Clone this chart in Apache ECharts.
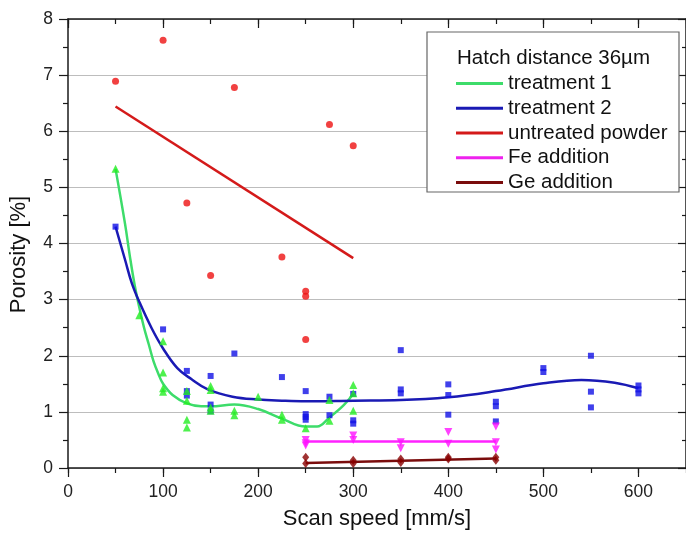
<!DOCTYPE html>
<html>
<head>
<meta charset="utf-8">
<script src="https://cdn.jsdelivr.net/npm/echarts@6/dist/echarts.min.js"></script>
<style>html,body{margin:0;padding:0;background:#fff}#c{width:686px;height:535px}</style>
</head>
<body>
<div id="c"></div>
<script>
const FONT = 'Liberation Sans, Arial, sans-serif';
const legendTitle = 'Hatch distance 36µm';
const seriesNames = ['treatment 1', 'treatment 2', 'untreated powder', 'Fe addition', 'Ge addition'];
const xTicks = [0, 100, 200, 300, 400, 500, 600];
const yTicks = [0, 1, 2, 3, 4, 5, 6, 7, 8];

// measured points
const treatment1Pts = [[50,5.33],[75,2.72],[100,2.26],[100,1.70],[100,1.42],[100,1.36],[125,1.37],[125,1.20],[125,0.86],[125,0.72],[150,1.46],[150,1.39],[150,1.08],[150,1.02],[175,1.02],[175,0.94],[200,1.27],[225,0.95],[225,0.86],[250,0.71],[275,1.21],[275,0.84],[300,1.48],[300,1.33],[300,1.02]];
const treatment2Pts = [[50,4.30],[100,2.47],[125,1.73],[125,1.37],[125,1.29],[150,1.64],[150,1.13],[150,1.01],[175,2.04],[225,1.62],[250,1.37],[250,0.96],[250,0.91],[250,0.86],[275,1.27],[275,0.94],[300,1.32],[300,0.85],[300,0.79],[350,2.10],[350,1.40],[350,1.33],[400,1.49],[400,1.30],[400,0.95],[450,1.18],[450,1.10],[450,0.83],[500,1.78],[500,1.71],[550,2.00],[550,1.36],[550,1.08],[600,1.47],[600,1.40],[600,1.33]];
const untreatedPts = [[50,6.89],[100,7.62],[125,4.72],[150,3.43],[175,6.78],[225,3.76],[250,3.15],[250,3.06],[250,2.29],[275,6.12],[300,5.74]];
const fePts = [[250,0.50],[250,0.44],[250,0.40],[300,0.58],[300,0.50],[350,0.46],[350,0.35],[400,0.64],[400,0.43],[450,0.74],[450,0.46],[450,0.33]];
const gePts = [[250,0.19],[250,0.08],[300,0.14],[300,0.08],[350,0.16],[350,0.10],[400,0.19],[400,0.16],[450,0.19],[450,0.14]];

// fitted curves
const treatment1Fit = [[50,5.33],[60,4.35],[65,3.78],[70,3.27],[75,2.86],[80,2.50],[85,2.20],[90,1.90],[95,1.68],[100,1.50],[110,1.30],[125,1.15],[140,1.10],[150,1.10],[175,1.13],[200,1.05],[225,0.88],[250,0.74],[262,0.74],[275,0.90],[290,1.12],[300,1.32]];
const treatment2Fit = [[50,4.30],[60,3.71],[67,3.30],[75,2.96],[88,2.49],[100,2.13],[115,1.78],[130,1.58],[147,1.40],[173,1.27],[200,1.22],[225,1.20],[250,1.19],[300,1.20],[350,1.21],[400,1.26],[450,1.37],[500,1.51],[540,1.57],[575,1.52],[600,1.42]];
const untreatedFit = [[50,6.44],[300,3.74]];
const feFit = [[250,0.47],[450,0.47]];
const geFit = [[250,0.09],[450,0.17]];

const axisColor = '#1a1a1a';
const chart = echarts.init(document.getElementById('c'), null, {renderer: 'canvas'});

function xAx(pos, interval, len, inside, labels, line, extra) {
  return Object.assign({
    type: 'value', position: pos, min: 0, max: 650, interval: interval,
    axisLine: {show: line, onZero: false, lineStyle: {color: axisColor, width: 1.5}},
    axisTick: {show: true, inside: inside, length: len, lineStyle: {color: axisColor, width: 1.2}},
    axisLabel: {show: labels, margin: 15, fontSize: 17.5, color: '#222', fontFamily: FONT, showMaxLabel: false,
      formatter: v => xTicks.indexOf(v) >= 0 ? String(v) : ''},
    splitLine: {show: false}
  }, extra || {});
}

const option = {
  animation: false,
  backgroundColor: '#fff',
  grid: {left: 68, top: 19, width: 622, height: 456, containLabel: false},
  title: {text: legendTitle, left: 457, top: 47.5, padding: 0, z: 20,
    textStyle: {fontSize: 20.5, fontWeight: 'normal', color: '#111', fontFamily: FONT}},
  legend: {
    data: seriesNames.map(n => ({name: n, icon: 'rect'})),
    orient: 'vertical', left: 456, top: 71, padding: 0, itemGap: 0,
    itemWidth: 47, itemHeight: 3, z: 20, selectedMode: false,
    textStyle: {fontSize: 20.5, color: '#111', fontFamily: FONT, lineHeight: 24.75}
  },
  graphic: [{
    type: 'rect', z: 10, shape: {x: 427, y: 32, width: 252, height: 160},
    style: {fill: '#fff', stroke: '#666', lineWidth: 1.2}
  }],
  xAxis: [
    xAx('bottom', 100, 9, false, true, true, {
      name: 'Scan speed [mm/s]', nameLocation: 'middle', nameGap: 40,
      nameTextStyle: {fontSize: 22, color: '#111', fontFamily: FONT}}),
    xAx('bottom', 50, 5, false, false, false),
    xAx('top', 100, 9, true, false, true),
    xAx('top', 50, 5, true, false, false)
  ],
  yAxis: [
    {type: 'value', position: 'left', min: 0, max: 8, interval: 1,
     name: 'Porosity [%]', nameLocation: 'middle', nameGap: 38, nameRotate: 90,
     nameTextStyle: {fontSize: 22, color: '#111', fontFamily: FONT, padding: [0, 22, 0, 0]},
     axisLine: {show: true, onZero: false, lineStyle: {color: axisColor, width: 1.5}},
     axisTick: {show: true, inside: false, length: 9, lineStyle: {color: axisColor, width: 1.2}},
     minorTick: {show: true, splitNumber: 2, length: 5, lineStyle: {color: axisColor, width: 1.2}},
     axisLabel: {margin: 15, fontSize: 17.5, color: '#222', fontFamily: FONT,
       formatter: v => yTicks.indexOf(v) >= 0 ? String(v) : ''},
     splitLine: {show: true, lineStyle: {color: '#bdbdbd', width: 1}}},
    {type: 'value', position: 'right', min: 0, max: 8, interval: 1,
     axisLine: {show: true, onZero: false, lineStyle: {color: axisColor, width: 1.5}},
     axisTick: {show: true, inside: true, length: 8, lineStyle: {color: axisColor, width: 1.2}},
     minorTick: {show: true, splitNumber: 2, length: 4, lineStyle: {color: axisColor, width: 1.2}},
     axisLabel: {show: false}, splitLine: {show: false}}
  ],
  series: [
    {name: 'untreated powder pts', type: 'scatter', data: untreatedPts, symbol: 'circle', symbolSize: 7,
     itemStyle: {color: '#ee1111'}, z: 3},
    {name: 'treatment 2 pts', type: 'scatter', data: treatment2Pts, symbol: 'rect', symbolSize: 6,
     itemStyle: {color: '#1010e6'}, z: 3},
    {name: 'treatment 1 pts', type: 'scatter', data: treatment1Pts, symbol: 'triangle', symbolSize: 8,
     itemStyle: {color: '#22ee22'}, z: 3},
    {name: 'Fe addition pts', type: 'scatter', data: fePts, symbol: 'triangle', symbolRotate: 180, symbolSize: 8,
     itemStyle: {color: '#ff11ff'}, z: 3},
    {name: 'Ge addition pts', type: 'scatter', data: gePts, symbol: 'diamond', symbolSize: [7, 9],
     itemStyle: {color: '#880000'}, z: 3},
    {name: 'treatment 1', type: 'line', data: treatment1Fit, smooth: 0.4, showSymbol: false,
     itemStyle: {color: '#3ddc6a'}, lineStyle: {color: '#3ddc6a', width: 2.5}, z: 2},
    {name: 'treatment 2', type: 'line', data: treatment2Fit, smooth: 0.4, showSymbol: false,
     itemStyle: {color: '#1a1ab4'}, lineStyle: {color: '#1a1ab4', width: 2.5}, z: 2},
    {name: 'untreated powder', type: 'line', data: untreatedFit, showSymbol: false,
     itemStyle: {color: '#d41a1a'}, lineStyle: {color: '#d41a1a', width: 2.5}, z: 2},
    {name: 'Fe addition', type: 'line', data: feFit, showSymbol: false,
     itemStyle: {color: '#ee22ee'}, lineStyle: {color: '#ff22ff', width: 2.5}, z: 2},
    {name: 'Ge addition', type: 'line', data: geFit, showSymbol: false,
     itemStyle: {color: '#7a0c0c'}, lineStyle: {color: '#7a0c0c', width: 2.5}, z: 2}
  ]
};
chart.setOption(option);
</script>
</body>
</html>
